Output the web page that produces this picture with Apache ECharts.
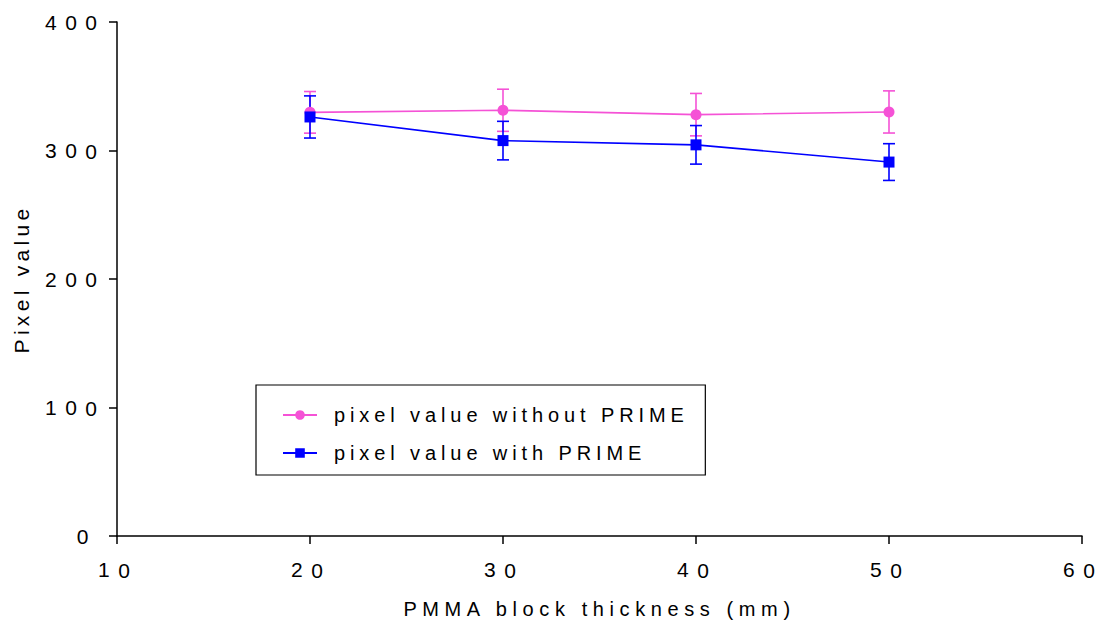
<!DOCTYPE html>
<html><head><meta charset="utf-8">
<script src="https://cdn.jsdelivr.net/npm/echarts@6/dist/echarts.min.js"></script>
<style>html,body{margin:0;padding:0;background:#fff}#c{width:1099px;height:624px}</style>
</head><body><div id="c"></div>
<script>
const thickness = [20, 30, 40, 50];
const withoutPrime = [329.7, 331.3, 327.9, 330.0];
const withoutPrimeErr = [16.2, 16.4, 16.5, 16.4];
const withPrime = [326.1, 307.7, 304.4, 291.0];
const withPrimeErr = [16.4, 15.0, 15.0, 14.3];
const xTicks = [10, 20, 30, 40, 50, 60];
const yTicks = [0, 100, 200, 300, 400];

const pink = '#f552d6';
const blue = '#0000ff';
const font = 'Liberation Sans, Arial, sans-serif';

function errSeries(name, vals, errs, color) {
  return {
    type: 'custom', name: name + ' err', silent: true, z: 1,
    data: thickness.map((x, i) => [x, vals[i] - errs[i], vals[i] + errs[i]]),
    renderItem: function (params, api) {
      const lo = api.coord([api.value(0), api.value(1)]);
      const hi = api.coord([api.value(0), api.value(2)]);
      const w = 6;
      const st = { stroke: color, lineWidth: 1.6 };
      return { type: 'group', children: [
        { type: 'line', shape: { x1: lo[0], y1: lo[1], x2: hi[0], y2: hi[1] }, style: st },
        { type: 'line', shape: { x1: lo[0]-w, y1: lo[1], x2: lo[0]+w, y2: lo[1] }, style: st },
        { type: 'line', shape: { x1: hi[0]-w, y1: hi[1], x2: hi[0]+w, y2: hi[1] }, style: st }
      ]};
    }
  };
}

const chart = echarts.init(document.getElementById('c'), null, { renderer: 'svg' });
chart.setOption({
  animation: false,
  grid: { left: 117, right: 17, top: 22, bottom: 86 },
  xAxis: {
    type: 'value', min: xTicks[0], max: xTicks[xTicks.length-1], interval: 10,
    name: 'PMMA block thickness (mm)', nameLocation: 'middle', nameGap: 63,
    nameTextStyle: { fontFamily: font, fontSize: 20, color: '#000' },
    axisLine: { lineStyle: { color: '#000', width: 1.5 } },
    axisTick: { length: 8, lineStyle: { color: '#000', width: 1.5 } },
    axisLabel: { fontFamily: font, fontSize: 21, color: '#000', margin: 23 },
    splitLine: { show: false }
  },
  yAxis: {
    type: 'value', min: yTicks[0], max: yTicks[yTicks.length-1], interval: 100,
    name: 'Pixel value', nameLocation: 'middle', nameGap: 85, nameRotate: 90,
    nameTextStyle: { fontFamily: font, fontSize: 21, color: '#000' },
    axisLine: { show: true, lineStyle: { color: '#000', width: 1.5 } },
    axisTick: { show: true, length: 8, lineStyle: { color: '#000', width: 1.5 } },
    axisLabel: { fontFamily: font, fontSize: 21, color: '#000', margin: 20 },
    splitLine: { show: false }
  },
  legend: {
    orient: 'vertical', left: 256, top: 385,
    data: ['pixel value without PRIME', 'pixel value with PRIME'],
    borderColor: '#000', borderWidth: 1.2,
    padding: [20, 139, 12, 26], itemGap: 18, itemWidth: 34, itemHeight: 12,
    textStyle: { fontFamily: font, fontSize: 20, color: '#000', padding: [0, 0, 0, 12] }
  },
  series: [
    errSeries('without', withoutPrime, withoutPrimeErr, pink),
    errSeries('with', withPrime, withPrimeErr, blue),
    {
      type: 'line', name: 'pixel value without PRIME', z: 3,
      data: thickness.map((x, i) => [x, withoutPrime[i]]),
      symbol: 'circle', symbolSize: 11,
      lineStyle: { color: pink, width: 1.6 }, itemStyle: { color: pink }
    },
    {
      type: 'line', name: 'pixel value with PRIME', z: 4,
      data: thickness.map((x, i) => [x, withPrime[i]]),
      symbol: 'rect', symbolSize: 11,
      lineStyle: { color: blue, width: 1.6 }, itemStyle: { color: blue }
    }
  ]
});

function spaceText() {
  document.querySelectorAll('#c svg text').forEach(function (t) {
    const s = t.textContent;
    if (/^\d+$/.test(s)) {
      t.style.letterSpacing = '8.5px';
      if (!t.querySelector('tspan') && s.length > 1) {
        // no spacing after the last digit
        t.textContent = s.slice(0, -1);
        const ts = document.createElementNS('http://www.w3.org/2000/svg', 'tspan');
        ts.textContent = s.slice(-1);
        ts.style.letterSpacing = '0px';
        t.appendChild(ts);
      }
      if (t.getAttribute('text-anchor') === 'middle') t.setAttribute('dx', '-3');
      return;
    }
    let ls = '5.6px';
    if (s.indexOf('pixel value w') === 0) ls = '4.9px';
    else if (s === 'Pixel value') ls = '4.3px';
    t.style.letterSpacing = ls;
  });
}
chart.on('finished', spaceText);
spaceText();
</script></body></html>
